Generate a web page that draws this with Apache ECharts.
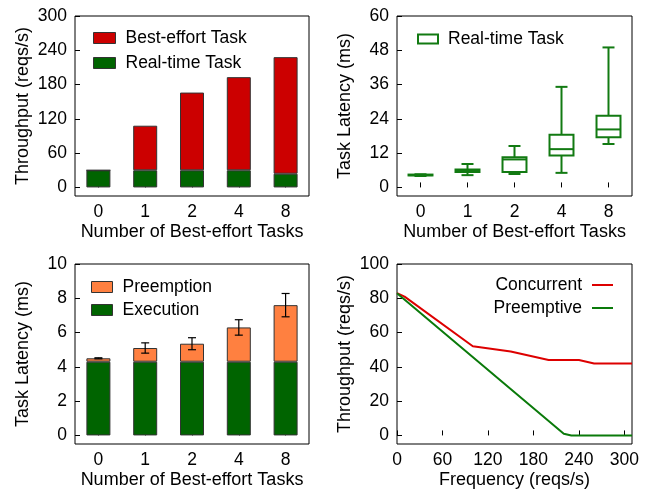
<!DOCTYPE html>
<html>
<head>
<meta charset="utf-8">
<script src="https://cdn.jsdelivr.net/npm/echarts@6/dist/echarts.min.js"></script>
<style>
  html, body { margin: 0; padding: 0; background: #fff; }
  #main { width: 647px; height: 490px; }
</style>
</head>
<body>
<div id="main"></div>
<script>
// categories (number of best-effort tasks)
var taskCats = ['0', '1', '2', '4', '8'];

// tick labels
var throughputTicks = [0, 60, 120, 180, 240, 300];
var boxLatencyTicks = [0, 12, 24, 36, 48, 60];
var latencyTicks = [0, 2, 4, 6, 8, 10];
var freqThroughputTicks = [0, 20, 40, 60, 80, 100];
var freqTicks = [0, 60, 120, 180, 240, 300];

// top-left: throughput
var rtThroughput = [30, 30, 30, 30, 24];
var beThroughput = [0, 78, 136, 163, 204];

// top-right: real-time task latency box [cat, min, q1, median, q3, max]
var latencyBox = [
    [0, 4.0, 4.2, 4.3, 4.5, 4.6],
    [1, 4.3, 5.4, 5.8, 6.3, 8.2],
    [2, 4.7, 5.4, 9.8, 10.6, 14.5],
    [3, 5.1, 11.2, 13.4, 18.4, 35.2],
    [4, 15.2, 17.6, 20.3, 25.1, 49.0]
];

// bottom-left: latency breakdown
var execLatency = [4.3, 4.3, 4.3, 4.3, 4.3];
var preemptLatency = [0.2, 0.8, 1.05, 2.0, 3.3];
var latencyErr = [0.03, 0.3, 0.35, 0.45, 0.68];

// bottom-right: throughput vs frequency
var concurrentData = [[0, 83], [10, 81], [100, 52], [150, 49], [200, 44], [240, 44], [260, 42], [310, 42]];
var preemptiveData = [[0, 83], [220, 1], [230, 0], [310, 0]];

var FONT = 'Liberation Sans';
var TICK_FS = 17.5, NAME_FS = 18, LEG_FS = 17.5;
var RED = '#cc0000', GREEN = '#006400', ORANGE = '#ff8040';
var BOX_GREEN = '#127a12', LINE_RED = '#dd0000', LINE_GREEN = '#0a7a0a';

var myChart = echarts.init(document.getElementById('main'));

function mkGrid(left, top, w, h) {
    return {left: left, top: top, width: w, height: h, show: true,
        borderColor: '#000', borderWidth: 1, backgroundColor: 'transparent'};
}

function catAxis(gi, name) {
    return {
        type: 'category', gridIndex: gi, data: taskCats,
        name: name, nameLocation: 'middle', nameGap: 27,
        nameTextStyle: {fontFamily: FONT, fontSize: NAME_FS, color: '#000'},
        axisLine: {show: false},
        axisTick: {show: true, inside: true, alignWithLabel: true, length: 5, lineStyle: {color: '#000'}},
        axisLabel: {fontFamily: FONT, fontSize: TICK_FS, color: '#000', margin: 7},
        splitLine: {show: false}
    };
}

function valAxis(gi, name, min, max, ticks, isX) {
    return {
        type: 'value', gridIndex: gi, min: min, max: max,
        name: name, nameLocation: 'middle', nameGap: isX ? 27 : 43,
        nameTextStyle: {fontFamily: FONT, fontSize: NAME_FS, color: '#000'},
        axisLine: {show: false},
        axisTick: {show: true, inside: true, length: 5, lineStyle: {color: '#000'}, customValues: ticks},
        axisLabel: {fontFamily: FONT, fontSize: TICK_FS, color: '#000', margin: isX ? 7 : 8, customValues: ticks},
        splitLine: {show: false}
    };
}

// error bars through the axis scale
function renderErr(params, api) {
    var x = api.value(0), lo = api.value(1), hi = api.value(2);
    var pLo = api.coord([x, lo]), pHi = api.coord([x, hi]);
    var cw = 4;
    var st = {stroke: '#000', lineWidth: 1.2};
    return {
        type: 'group',
        children: [
            {type: 'line', shape: {x1: pLo[0], y1: pLo[1], x2: pHi[0], y2: pHi[1]}, style: st},
            {type: 'line', shape: {x1: pLo[0] - cw, y1: pLo[1], x2: pLo[0] + cw, y2: pLo[1]}, style: st},
            {type: 'line', shape: {x1: pHi[0] - cw, y1: pHi[1], x2: pHi[0] + cw, y2: pHi[1]}, style: st}
        ]
    };
}

// box + whiskers with half-width caps
function renderBox(params, api) {
    var x = api.value(0);
    var pMin = api.coord([x, api.value(1)]);
    var pQ1 = api.coord([x, api.value(2)]);
    var pMed = api.coord([x, api.value(3)]);
    var pQ3 = api.coord([x, api.value(4)]);
    var pMax = api.coord([x, api.value(5)]);
    var bw = api.size([1, 0])[0] * 0.51;
    var half = bw / 2, cap = bw / 4;
    var cx = pMed[0];
    var st = {stroke: BOX_GREEN, lineWidth: 2, fill: null};
    return {
        type: 'group',
        children: [
            {type: 'rect', shape: {x: cx - half, y: pQ3[1], width: bw, height: pQ1[1] - pQ3[1]}, style: st},
            {type: 'line', shape: {x1: cx - half, y1: pMed[1], x2: cx + half, y2: pMed[1]}, style: st},
            {type: 'line', shape: {x1: cx, y1: pQ3[1], x2: cx, y2: pMax[1]}, style: st},
            {type: 'line', shape: {x1: cx, y1: pQ1[1], x2: cx, y2: pMin[1]}, style: st},
            {type: 'line', shape: {x1: cx - cap, y1: pMax[1], x2: cx + cap, y2: pMax[1]}, style: st},
            {type: 'line', shape: {x1: cx - cap, y1: pMin[1], x2: cx + cap, y2: pMin[1]}, style: st}
        ]
    };
}

var errData = taskCats.map(function (c, i) {
    var tot = execLatency[i] + preemptLatency[i];
    return [i, tot - latencyErr[i], tot + latencyErr[i]];
});

var legendText = {fontFamily: FONT, fontSize: LEG_FS, color: '#000', padding: [0, 0, 0, 5]};
var legendTextR = {fontFamily: FONT, fontSize: LEG_FS, color: '#000', padding: [0, 5, 0, 0]};

var option = {
    animation: false,
    backgroundColor: '#fff',
    grid: [
        mkGrid(75, 16, 234, 180),
        mkGrid(397, 16, 235, 180),
        mkGrid(75, 264, 234, 181),
        mkGrid(397, 264, 235, 181)
    ],
    xAxis: [
        catAxis(0, 'Number of Best-effort Tasks'),
        catAxis(1, 'Number of Best-effort Tasks'),
        catAxis(2, 'Number of Best-effort Tasks'),
        valAxis(3, 'Frequency (reqs/s)', 0, 310, freqTicks, true)
    ],
    yAxis: [
        valAxis(0, 'Throughput (reqs/s)', -15, 300, throughputTicks),
        valAxis(1, 'Task Latency (ms)', -3, 60, boxLatencyTicks),
        valAxis(2, 'Task Latency (ms)', -0.5, 10, latencyTicks),
        valAxis(3, 'Throughput (reqs/s)', -5, 100, freqThroughputTicks)
    ],
    legend: [
        {
            left: 93, top: 29, padding: 0, orient: 'vertical', icon: 'rect',
            itemWidth: 22, itemHeight: 11, itemGap: 7,
            itemStyle: {borderColor: '#333', borderWidth: 1},
            textStyle: legendText, selectedMode: false,
            data: ['Best-effort Task', 'Real-time Task']
        },
        {
            left: 417, top: 30, padding: 0, orient: 'vertical', itemWidth: 20, itemHeight: 9,
            textStyle: legendText, selectedMode: false,
            data: [{name: 'Real-time Task ', icon: 'rect',
                itemStyle: {color: 'rgba(0,0,0,0)', borderColor: BOX_GREEN, borderWidth: 2}}]
        },
        {
            left: 91, top: 278, padding: 0, orient: 'vertical', icon: 'rect',
            itemWidth: 21, itemHeight: 11, itemGap: 5,
            itemStyle: {borderColor: '#333', borderWidth: 1},
            textStyle: legendText, selectedMode: false,
            data: ['Preemption', 'Execution']
        },
        {
            right: 34, top: 276, padding: 0, orient: 'vertical', align: 'right', itemWidth: 21, itemHeight: 2, itemGap: 5,
            textStyle: legendTextR, selectedMode: false,
            data: [{name: 'Concurrent', icon: 'rect'}, {name: 'Preemptive', icon: 'rect'}]
        }
    ],
    series: [
        {
            name: 'Real-time Task', type: 'bar', stack: 'tp', xAxisIndex: 0, yAxisIndex: 0,
            barWidth: 24, data: rtThroughput,
            itemStyle: {color: GREEN, borderColor: '#333', borderWidth: 1}
        },
        {
            name: 'Best-effort Task', type: 'bar', stack: 'tp', xAxisIndex: 0, yAxisIndex: 0,
            barWidth: 24, data: beThroughput,
            itemStyle: {color: RED, borderColor: '#333', borderWidth: 1}
        },
        {
            name: 'Real-time Task ', type: 'custom', xAxisIndex: 1, yAxisIndex: 1,
            renderItem: renderBox, data: latencyBox,
            itemStyle: {color: BOX_GREEN},
            encode: {x: 0, y: [1, 2, 3, 4, 5]}
        },
        {
            name: 'Execution', type: 'bar', stack: 'lat', xAxisIndex: 2, yAxisIndex: 2,
            barWidth: 24, data: execLatency,
            itemStyle: {color: GREEN, borderColor: '#333', borderWidth: 1}
        },
        {
            name: 'Preemption', type: 'bar', stack: 'lat', xAxisIndex: 2, yAxisIndex: 2,
            barWidth: 24, data: preemptLatency,
            itemStyle: {color: ORANGE, borderColor: '#333', borderWidth: 1}
        },
        {
            name: 'err', type: 'custom', xAxisIndex: 2, yAxisIndex: 2, z: 10,
            renderItem: renderErr, data: errData,
            encode: {x: 0, y: [1, 2]}
        },
        {
            name: 'Concurrent', type: 'line', xAxisIndex: 3, yAxisIndex: 3,
            showSymbol: false, symbol: 'none', data: concurrentData,
            itemStyle: {color: LINE_RED}, lineStyle: {color: LINE_RED, width: 2}
        },
        {
            name: 'Preemptive', type: 'line', xAxisIndex: 3, yAxisIndex: 3,
            showSymbol: false, symbol: 'none', data: preemptiveData,
            itemStyle: {color: LINE_GREEN}, lineStyle: {color: LINE_GREEN, width: 2}
        }
    ]
};

myChart.setOption(option);
</script>
</body>
</html>
